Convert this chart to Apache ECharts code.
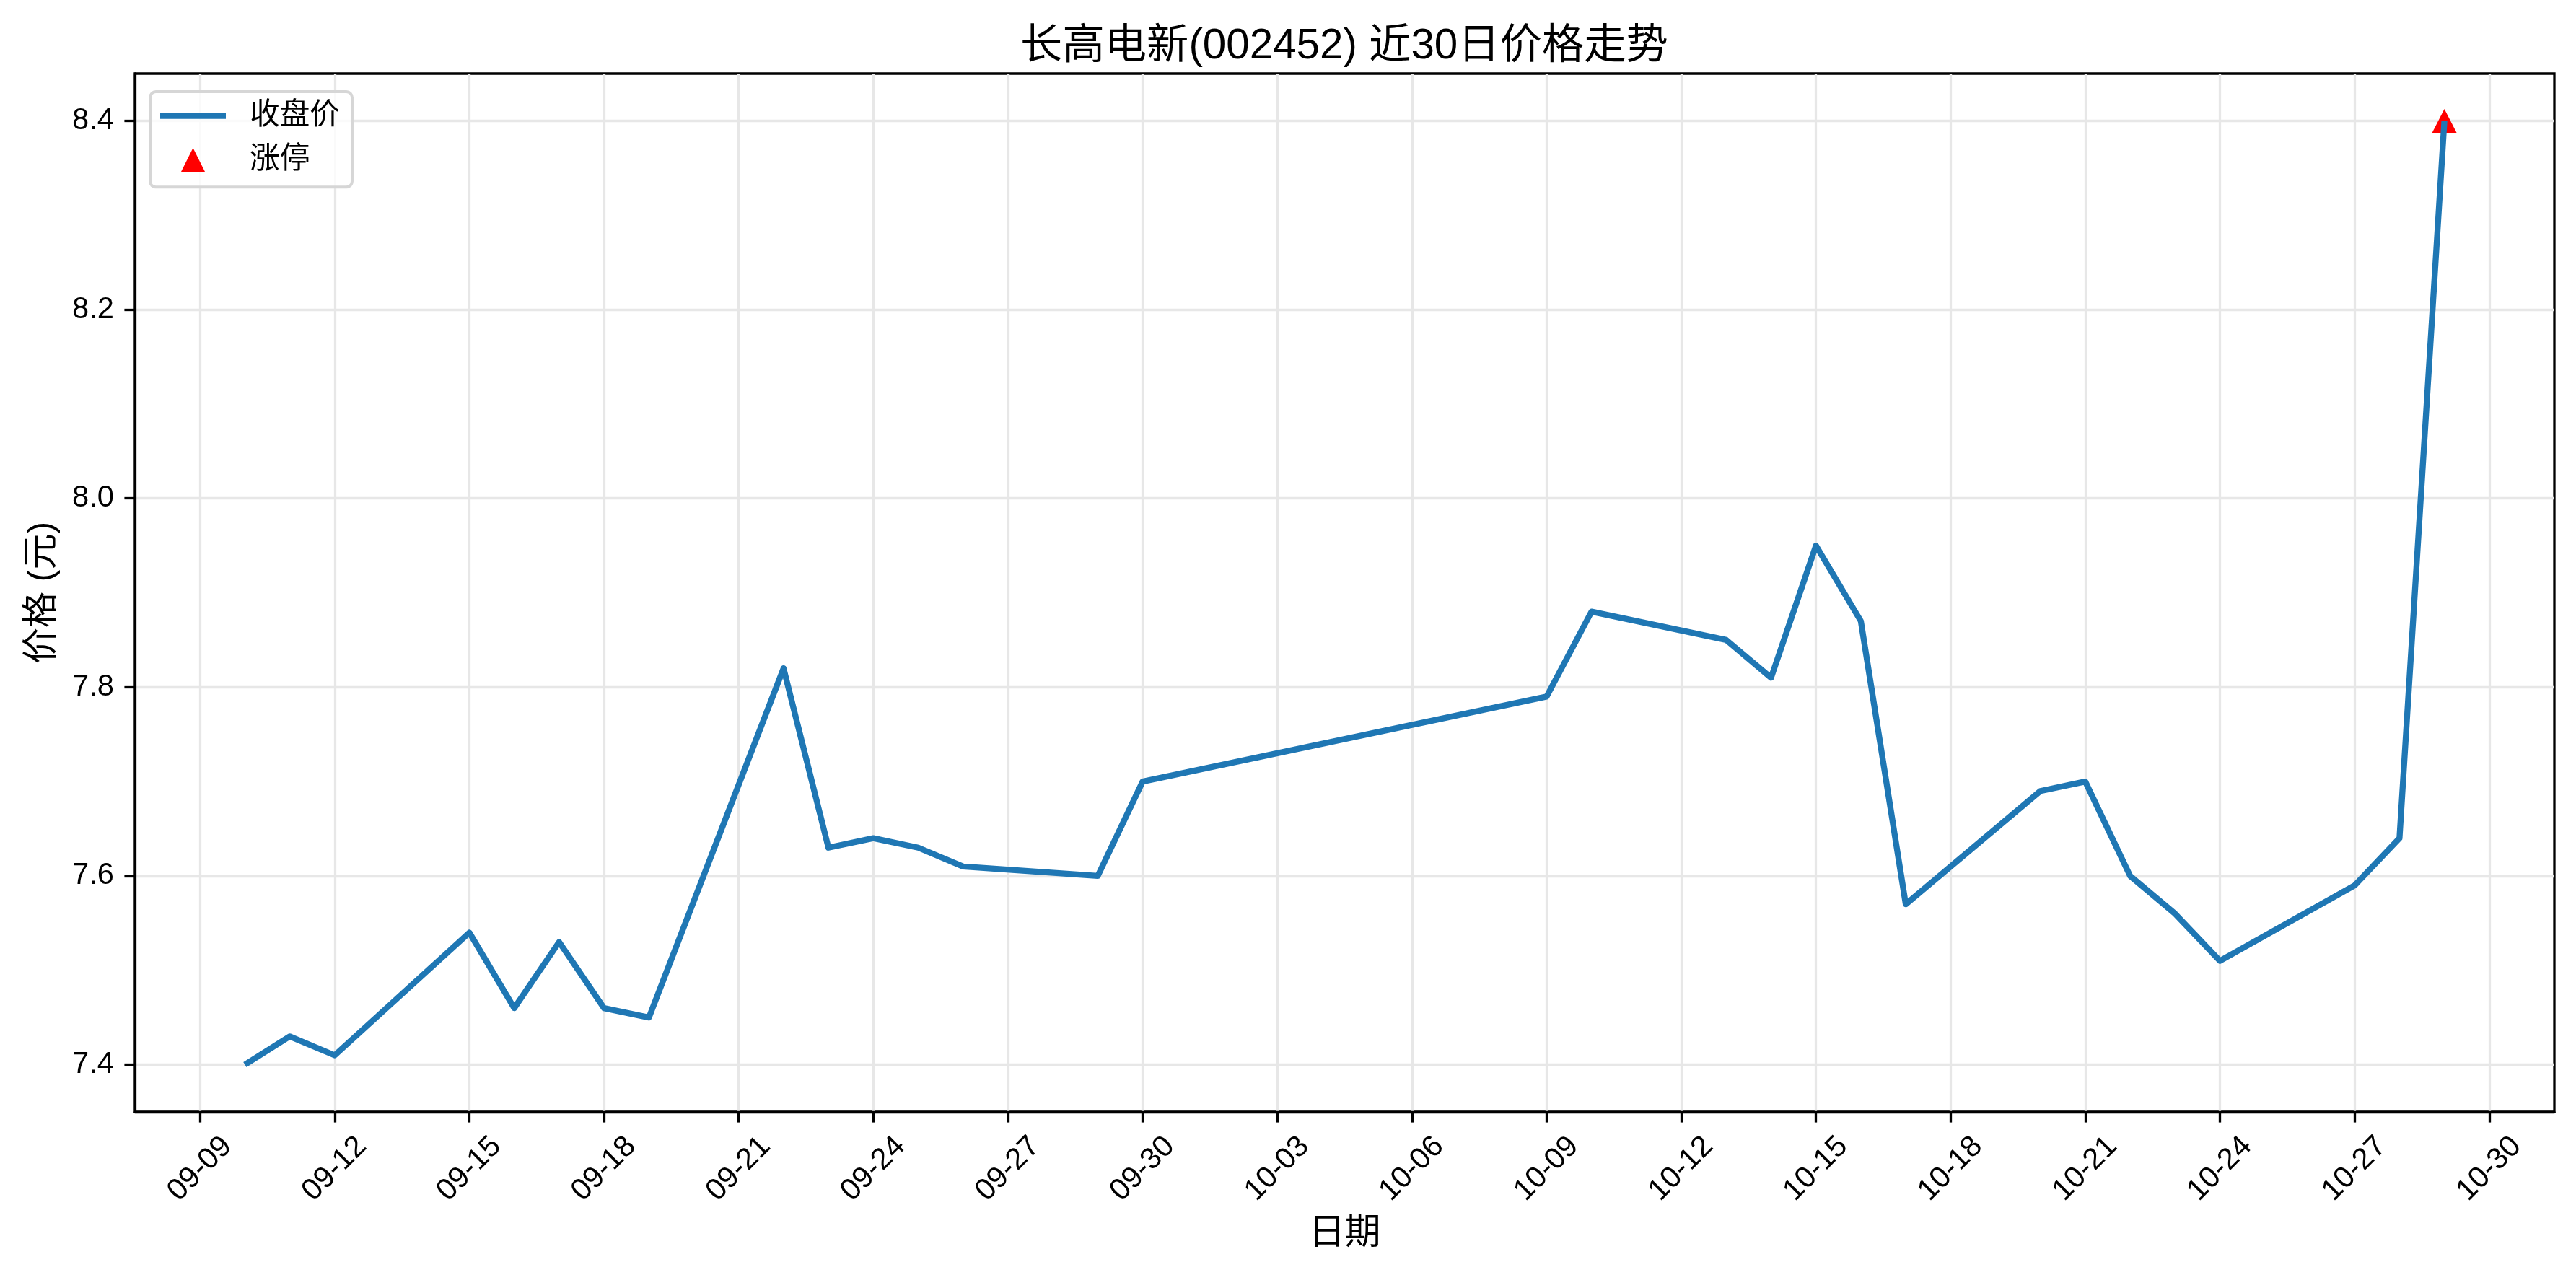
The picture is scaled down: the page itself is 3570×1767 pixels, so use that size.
<!DOCTYPE html>
<html>
<head>
<meta charset="utf-8">
<title>长高电新(002452) 近30日价格走势</title>
<script src="https://cdn.jsdelivr.net/npm/echarts@6/dist/echarts.min.js"></script>
<style>
  html, body { margin: 0; padding: 0; background: #fff; }
  #chart { width: 3570px; height: 1767px; }
</style>
</head>
<body>
<div id="chart"></div>
<script>
// trading days and closing prices
var dates = [
  "2025-09-10", "2025-09-11", "2025-09-12", "2025-09-15", "2025-09-16",
  "2025-09-17", "2025-09-18", "2025-09-19", "2025-09-22", "2025-09-23",
  "2025-09-24", "2025-09-25", "2025-09-26", "2025-09-29", "2025-09-30",
  "2025-10-09", "2025-10-10", "2025-10-13", "2025-10-14", "2025-10-15",
  "2025-10-16", "2025-10-17", "2025-10-20", "2025-10-21", "2025-10-22",
  "2025-10-23", "2025-10-24", "2025-10-27", "2025-10-28", "2025-10-29"
];
var closes = [
  7.40, 7.43, 7.41, 7.54, 7.46,
  7.53, 7.46, 7.45, 7.82, 7.63,
  7.64, 7.63, 7.61, 7.60, 7.70,
  7.79, 7.88, 7.85, 7.81, 7.95,
  7.87, 7.57, 7.69, 7.70, 7.60,
  7.56, 7.51, 7.59, 7.64, 8.40
];
// limit-up days
var limitUpDates = ["2025-10-29"];
var limitUpPrices = [8.40];

// tick labels
var xTicks = [
  "2025-09-09", "2025-09-12", "2025-09-15", "2025-09-18", "2025-09-21",
  "2025-09-24", "2025-09-27", "2025-09-30", "2025-10-03", "2025-10-06",
  "2025-10-09", "2025-10-12", "2025-10-15", "2025-10-18", "2025-10-21",
  "2025-10-24", "2025-10-27", "2025-10-30"
];
var yTicks = [7.4, 7.6, 7.8, 8.0, 8.2, 8.4];

var FONT = "'Liberation Sans', Arial, 'Noto Sans CJK SC', sans-serif";
var DPI = 300 / 72; // points -> px

function toTime(s) {
  return new Date(s + "T00:00:00").getTime();
}
function pad(n) {
  return (n < 10 ? "0" : "") + n;
}

// 5% margin on each side, like the original plot
var t0 = toTime(dates[0]);
var t1 = toTime(dates[dates.length - 1]);
var xPad = (t1 - t0) * 0.05;
var yPad = (Math.max.apply(null, closes) - Math.min.apply(null, closes)) * 0.05;

var chart = echarts.init(document.getElementById("chart"));

var option = {
  animation: false,
  backgroundColor: "#fff",
  textStyle: { fontFamily: FONT },
  title: {
    text: "长高电新(002452) 近30日价格走势",
    left: 1863,
    top: 36,
    padding: 0,
    textAlign: "center",
    textStyle: {
      fontFamily: FONT,
      fontSize: 14 * DPI,
      fontWeight: "normal",
      color: "#000",
    },
  },
  legend: {
    orient: "vertical",
    left: 208,
    top: 127,
    padding: [13, 17, 17, 14],
    itemGap: 19,
    itemWidth: 91,
    itemHeight: 33,
    borderColor: "#d6d6d6",
    borderWidth: 4,
    borderRadius: 8,
    backgroundColor: "rgba(255,255,255,0.8)",
    textStyle: {
      fontFamily: FONT,
      fontSize: 10 * DPI,
      color: "#000",
      padding: [0, 0, 0, 28],
    },
    data: [
      { name: "收盘价", icon: "path://M0,0H91V8H0Z", itemStyle: { color: "#1f77b4", opacity: 1 } },
      { name: "涨停", icon: "path://M1,0L2,2L0,2Z", itemStyle: { color: "#ff0000", opacity: 1 } },
    ],
  },
  grid: {
    left: 187,
    right: 30,
    top: 102,
    bottom: 226,
    show: true,
    borderColor: "#000",
    borderWidth: 3.3,
    outerBoundsMode: "none",
  },
  xAxis: {
    type: "value",
    min: t0 - xPad,
    max: t1 + xPad,
    name: "日期",
    nameLocation: "middle",
    nameGap: 144,
    nameMoveOverlap: false,
    nameTextStyle: { fontFamily: FONT, fontSize: 12 * DPI, color: "#000" },
    axisLine: { show: true, lineStyle: { color: "#000", width: 3.3 } },
    axisTick: {
      show: true,
      length: 14.6,
      lineStyle: { color: "#000", width: 3.3 },
      customValues: xTicks.map(toTime),
    },
    axisLabel: {
      rotate: 45,
      align: "center",
      verticalAlign: "middle",
      margin: 79,
      fontFamily: FONT,
      fontSize: 10 * DPI,
      color: "#000",
      customValues: xTicks.map(toTime),
      formatter: function (v) {
        var d = new Date(v);
        return pad(d.getMonth() + 1) + "-" + pad(d.getDate());
      },
    },
    splitLine: { show: true, lineStyle: { color: "#e7e7e7", width: 3.3 } },
  },
  yAxis: {
    type: "value",
    min: 7.4 - yPad,
    max: 8.4 + yPad,
    name: "价格 (元)",
    nameLocation: "middle",
    nameGap: 103,
    nameRotate: 90,
    nameMoveOverlap: false,
    nameTextStyle: { fontFamily: FONT, fontSize: 12 * DPI, color: "#000" },
    axisLine: { show: true, lineStyle: { color: "#000", width: 3.3 } },
    axisTick: {
      show: true,
      length: 14.6,
      lineStyle: { color: "#000", width: 3.3 },
      customValues: yTicks,
    },
    axisLabel: {
      margin: 29,
      fontFamily: FONT,
      fontSize: 10 * DPI,
      color: "#000",
      customValues: yTicks,
      formatter: function (v) {
        return v.toFixed(1);
      },
    },
    splitLine: { show: true, lineStyle: { color: "#e7e7e7", width: 3.3 } },
  },
  series: [
    {
      name: "收盘价",
      type: "line",
      z: 3,
      showSymbol: false,
      symbol: "none",
      lineStyle: { color: "#1f77b4", width: 8.3, join: "round" },
      itemStyle: { color: "#1f77b4" },
      data: dates.map(function (d, i) {
        return [toTime(d), closes[i]];
      }),
    },
    {
      name: "涨停",
      type: "scatter",
      z: 2,
      symbol: "triangle",
      symbolSize: [34, 33],
      itemStyle: { color: "#ff0000", opacity: 1 },
      data: limitUpDates.map(function (d, i) {
        return [toTime(d), limitUpPrices[i]];
      }),
    },
  ],
};

chart.setOption(option);
</script>
</body>
</html>
